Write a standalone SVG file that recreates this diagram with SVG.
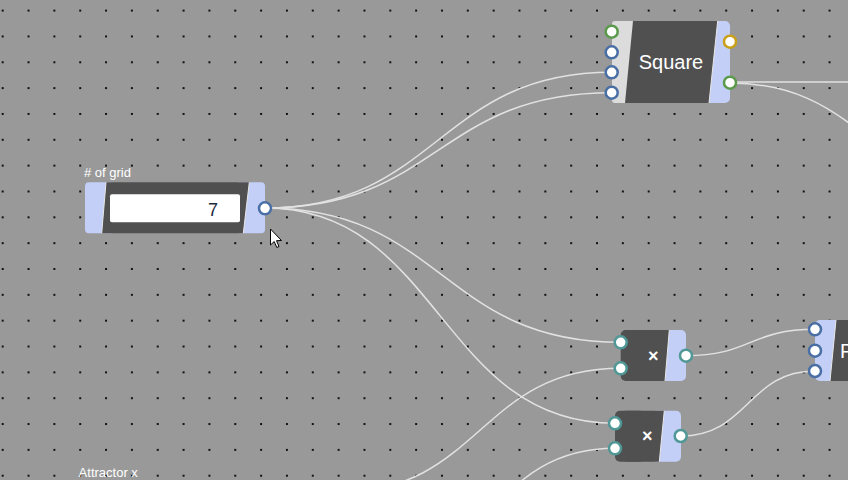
<svg xmlns="http://www.w3.org/2000/svg" width="848" height="480" viewBox="0 0 848 480">
<defs>
<pattern id="dots" x="1.7" y="9.6" width="25.84" height="25.84" patternUnits="userSpaceOnUse">
<rect x="0" y="0" width="2" height="2" fill="#111"/>
</pattern>
<style>
.body{fill:#505050}
.blue{fill:#c3cff7}
.grey{fill:#dcdcdc}
.edge{stroke:#e8e8e8;stroke-width:1}
.wire{fill:none;stroke:#e2e2e2;stroke-width:1.5}
.pb{fill:#fff;stroke:#4a6fa5;stroke-width:2.5}
.pg{fill:#fff;stroke:#5a9a4a;stroke-width:2.5}
.py{fill:#fff;stroke:#c9a017;stroke-width:2.5}
.pt{fill:#fff;stroke:#4f9896;stroke-width:2.5}
.lbl{font-family:"Liberation Sans",Arial,sans-serif;fill:#fff}
</style>
</defs>
<rect width="848" height="480" fill="#999999"/>
<rect width="848" height="480" fill="url(#dots)"/>

<g id="connectors">
<path class="wire" d="M730,82 L848,82"/>
<path class="wire" d="M730,83 C790,83 830,105 870,140"/>
<path class="wire" d="M265,208 C438,208 438,72.3 611.7,72.3"/>
<path class="wire" d="M265,208 C438,208 438,92.7 611.7,92.7"/>
<path class="wire" d="M265,208 C442,208 442,342.3 620.7,342.3"/>
<path class="wire" d="M265,208 C440,208 440,423.3 615,423.3"/>
<path class="wire" d="M340,492 C480,492 480,368.3 620.7,368.3"/>
<path class="wire" d="M365,571 C490,571 490,448.3 615,448.3"/>
<path class="wire" d="M686,355.7 C750,355.7 750,329.3 815,329.3"/>
<path class="wire" d="M680.7,436 C748,436 748,371 815,371"/>
</g>

<g id="node-square">
<rect class="grey" x="612" y="21" width="30" height="82" rx="3"/>
<rect class="blue" x="700" y="21" width="30" height="82" rx="5"/>
<polygon class="body" points="633,21 717.7,21 709,103 625,103"/>
<line class="edge" x1="717.7" y1="21" x2="709" y2="103"/>
<text class="lbl" x="671" y="69" font-size="20" text-anchor="middle">Square</text>
<circle class="pg" cx="611.7" cy="31.7" r="6"/>
<circle class="pb" cx="611.7" cy="52.3" r="6"/>
<circle class="pb" cx="611.7" cy="72.3" r="6"/>
<circle class="pb" cx="611.7" cy="92.7" r="6"/>
<circle class="py" cx="730" cy="41.7" r="6"/>
<circle class="pg" cx="730" cy="82.7" r="6"/>
</g>

<g id="node-grid">
<text class="lbl" x="84" y="176.5" font-size="13"># of grid</text>
<rect class="blue" x="85" y="182.3" width="30" height="51" rx="4"/>
<rect class="blue" x="235" y="182.3" width="30" height="51" rx="4"/>
<polygon class="body" points="106,182.3 249.3,182.3 243.3,233.3 101.7,233.3"/>
<line class="edge" x1="106" y1="182.3" x2="101.7" y2="233.3"/>
<line class="edge" x1="249.3" y1="182.3" x2="243.3" y2="233.3"/>
<rect x="110" y="194.3" width="130" height="28" rx="2" fill="#fff"/>
<text x="218" y="215.5" font-size="18" text-anchor="end" font-family="Liberation Sans,Arial,sans-serif" fill="#1c2a40">7</text>
<circle class="pb" cx="265" cy="208.3" r="6"/>
</g>

<g id="node-mul1">
<rect class="body" x="620.7" y="330" width="30" height="51" rx="5"/>
<rect class="blue" x="656" y="330" width="30" height="51" rx="5"/>
<polygon class="body" points="630,330 669.3,330 665,381 630,381"/>
<line class="edge" x1="669.3" y1="330" x2="665" y2="381"/>
<text class="lbl" x="653.3" y="361.5" font-size="18" font-weight="bold" text-anchor="middle">×</text>
<circle class="pt" cx="620.7" cy="342.3" r="6"/>
<circle class="pt" cx="620.7" cy="368.3" r="6"/>
<circle class="pt" cx="686" cy="355.7" r="6"/>
</g>

<g id="node-mul2">
<rect class="body" x="615" y="410.7" width="30" height="51" rx="5"/>
<rect class="blue" x="651" y="410.7" width="30" height="51" rx="5"/>
<polygon class="body" points="625,410.7 664.3,410.7 659.3,461.7 625,461.7"/>
<line class="edge" x1="664.3" y1="410.7" x2="659.3" y2="461.7"/>
<text class="lbl" x="647.3" y="442" font-size="18" font-weight="bold" text-anchor="middle">×</text>
<circle class="pt" cx="615" cy="423.3" r="6"/>
<circle class="pt" cx="615" cy="448.3" r="6"/>
<circle class="pt" cx="680.7" cy="436" r="6"/>
</g>

<g id="node-point">
<rect class="blue" x="815" y="320" width="30" height="61" rx="5"/>
<polygon class="body" points="836,320 860,320 860,381 830,381"/>
<line class="edge" x1="836" y1="320" x2="830" y2="381"/>
<text class="lbl" x="840" y="358" font-size="20">P</text>
<circle class="pb" cx="815" cy="329.3" r="6"/>
<circle class="pb" cx="815" cy="350.7" r="6"/>
<circle class="pb" cx="815" cy="371" r="6"/>
</g>

<g id="node-attractor">
<text class="lbl" x="78.6" y="477" font-size="13">Attractor x</text>
</g>

<g id="cursor">
<path d="M270.5,229 L270.5,245 L274.2,241.5 L276.8,247.5 L279,246.5 L276.5,240.7 L281.5,240.5 Z" fill="#fff" stroke="#000" stroke-width="1" stroke-linejoin="round"/>
</g>
</svg>
